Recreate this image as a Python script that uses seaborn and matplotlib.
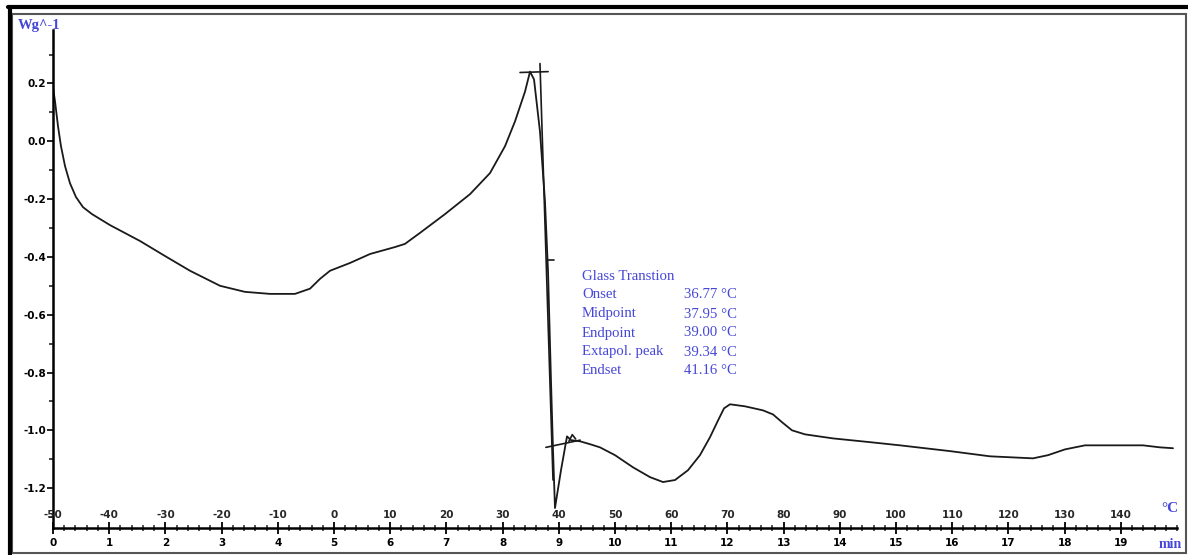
import numpy as np
import pandas as pd
import matplotlib
matplotlib.use("Agg")
import matplotlib.pyplot as plt
from matplotlib.patches import Rectangle
from matplotlib.ticker import MultipleLocator
import seaborn as sns

sns.set_theme(style="white")
plt.rcParams['font.family'] = ['DejaVu Sans']

# DSC curve, time (min) vs heat flow (W/g)
time_min = [0.000, 0.036, 0.089, 0.142, 0.214, 0.302, 0.409, 0.534, 0.694,
            1.014, 1.548, 1.993, 2.438, 2.972, 3.416, 3.861, 4.306, 4.573,
            4.751, 4.929, 5.285, 5.641, 6.085, 6.263, 6.530, 6.975, 7.420,
            7.776, 8.043, 8.221, 8.399, 8.488, 8.559, 8.665, 8.754, 8.808,
            8.861, 8.897, 8.932, 9.039, 9.146, 9.217, 9.377, 9.555, 9.733,
            10.000, 10.320, 10.623, 10.854, 11.068, 11.299, 11.512, 11.690,
            11.833, 11.940, 12.046, 12.313, 12.633, 12.811, 12.972, 13.149,
            13.381, 13.879, 14.537, 15.071, 15.961, 16.673, 17.438, 17.705,
            18.007, 18.363, 19.395, 19.698, 19.929]
heat_flow = [0.186, 0.138, 0.052, -0.017, -0.086, -0.145, -0.193, -0.228,
             -0.252, -0.290, -0.345, -0.397, -0.448, -0.500, -0.521, -0.528,
             -0.528, -0.510, -0.476, -0.448, -0.421, -0.390, -0.366, -0.355,
             -0.317, -0.252, -0.183, -0.110, -0.017, 0.069, 0.172, 0.241,
             0.214, 0.034, -0.207, -0.448, -0.828, -1.069, -1.269, -1.138,
             -1.021, -1.034, -1.038, -1.048, -1.059, -1.086, -1.128, -1.162,
             -1.179, -1.172, -1.138, -1.086, -1.024, -0.966, -0.924, -0.910,
             -0.917, -0.931, -0.945, -0.972, -1.000, -1.014, -1.028, -1.041,
             -1.052, -1.072, -1.090, -1.097, -1.086, -1.066, -1.052, -1.052,
             -1.059, -1.062]

# evaluation construction lines (tangents / markers)
tangent_lines = {
    "peak_level": ([8.31, 8.81], [0.238, 0.241]),
    "step_tangent": ([8.665, 8.897], [0.269, -1.172]),
    "mid_mark": ([8.80, 8.91], [-0.41, -0.41]),
    "base_after": ([8.77, 9.38], [-1.059, -1.034]),
    "end_mark": ([9.18, 9.24, 9.30], [-1.038, -1.015, -1.030]),
}

minute_ticks = list(range(0, 20))
temp_labels = ["-50", "-40", "-30", "-20", "-10", "0", "10", "20", "30", "40",
               "50", "60", "70", "80", "90", "100", "110", "120", "130", "140"]

gt_names = ["Onset", "Midpoint", "Endpoint", "Extapol. peak", "Endset"]
gt_values = ["36.77 \u00b0C", "37.95 \u00b0C", "39.00 \u00b0C", "39.34 \u00b0C", "41.16 \u00b0C"]

blue = "#4646d8"
df = pd.DataFrame({"time": time_min, "hf": heat_flow})

fig = plt.figure(figsize=(11.88, 5.55), dpi=100)
ax = fig.add_axes([53 / 1188, 27 / 555, 1124 / 1188, 498 / 555])

sns.lineplot(data=df, x="time", y="hf", ax=ax, color="#1a1a1a", lw=1.3,
             sort=False, estimator=None)
for name, (xs, ys) in tangent_lines.items():
    ax.plot(xs, ys, color="#1a1a1a", lw=1.2)

ax.set_xlim(0, 20)
ax.set_ylim(-1.338, 0.385)
ax.set_xlabel("")
ax.set_ylabel("")

for s in ["top", "right"]:
    ax.spines[s].set_visible(False)
for s in ["left", "bottom"]:
    ax.spines[s].set_color("black")
    ax.spines[s].set_linewidth(1.8)

ax.yaxis.set_minor_locator(MultipleLocator(0.1))
ax.set_yticks([0.2, 0.0, -0.2, -0.4, -0.6, -0.8, -1.0, -1.2])
ax.set_yticklabels(["0.2", "0.0", "-0.2", "-0.4", "-0.6", "-0.8", "-1.0", "-1.2"],
                   fontsize=7.5, fontweight="bold")
ax.tick_params(axis="y", which="major", direction="out", length=4, width=1.2,
               pad=1, left=True, colors="black")
ax.tick_params(axis="y", which="minor", direction="out", length=3, width=1.2, left=True)

ax.set_xticks(minute_ticks)
ax.set_xticklabels([str(m) for m in minute_ticks], fontsize=7.5, fontweight="bold")
ax.xaxis.set_minor_locator(MultipleLocator(0.2))
ax.tick_params(axis="x", which="major", direction="inout", length=8, width=1.3,
               pad=3, bottom=True, colors="black")
ax.tick_params(axis="x", which="minor", direction="inout", length=5, width=1.1,
               bottom=True)

for m, lab in zip(minute_ticks, temp_labels):
    ax.annotate(lab, xy=(m, 0), xycoords=ax.get_xaxis_transform(),
                xytext=(0, 6), textcoords="offset points", ha="center",
                va="bottom", fontsize=7.5, fontweight="bold")

ax.grid(False)

serif = ["Liberation Serif", "DejaVu Serif"]
fig.text(18 / 1188, 1 - 25 / 555, "Wg^-1", color=blue, family=serif,
         fontsize=10.5, fontweight="bold", va="center", ha="left")
fig.text(1178 / 1188, 1 - 508 / 555, "\u00b0C", color=blue, family=serif,
         fontsize=11, fontweight="bold", va="center", ha="right")
fig.text(1182 / 1188, 1 - 545 / 555, "min", color=blue, family=serif,
         fontsize=10, fontweight="bold", va="center", ha="right")

fig.text(582 / 1188, 1 - 276 / 555, "Glass Transtion", color=blue, family=serif,
         fontsize=10.6, va="center", ha="left")
for i, (n, v) in enumerate(zip(gt_names, gt_values)):
    yy = 1 - (295 + 19 * i) / 555
    fig.text(582 / 1188, yy, n, color=blue, family=serif, fontsize=10.6,
             va="center", ha="left")
    fig.text(737 / 1188, yy, v, color=blue, family=serif, fontsize=10.6,
             va="center", ha="right")

# frame around the window
fig.patches.append(Rectangle((12 / 1188, 2 / 555), 1174 / 1188, 539 / 555,
                             transform=fig.transFigure, fill=False,
                             edgecolor="#555555", lw=1.5))
fig.add_artist(plt.Line2D([8 / 1188, 1], [1 - 7 / 555, 1 - 7 / 555],
                          transform=fig.transFigure, color="black", lw=3))
fig.add_artist(plt.Line2D([10 / 1188, 10 / 1188], [0, 1 - 7 / 555],
                          transform=fig.transFigure, color="black", lw=3))

fig.savefig("out.png", dpi=100)
